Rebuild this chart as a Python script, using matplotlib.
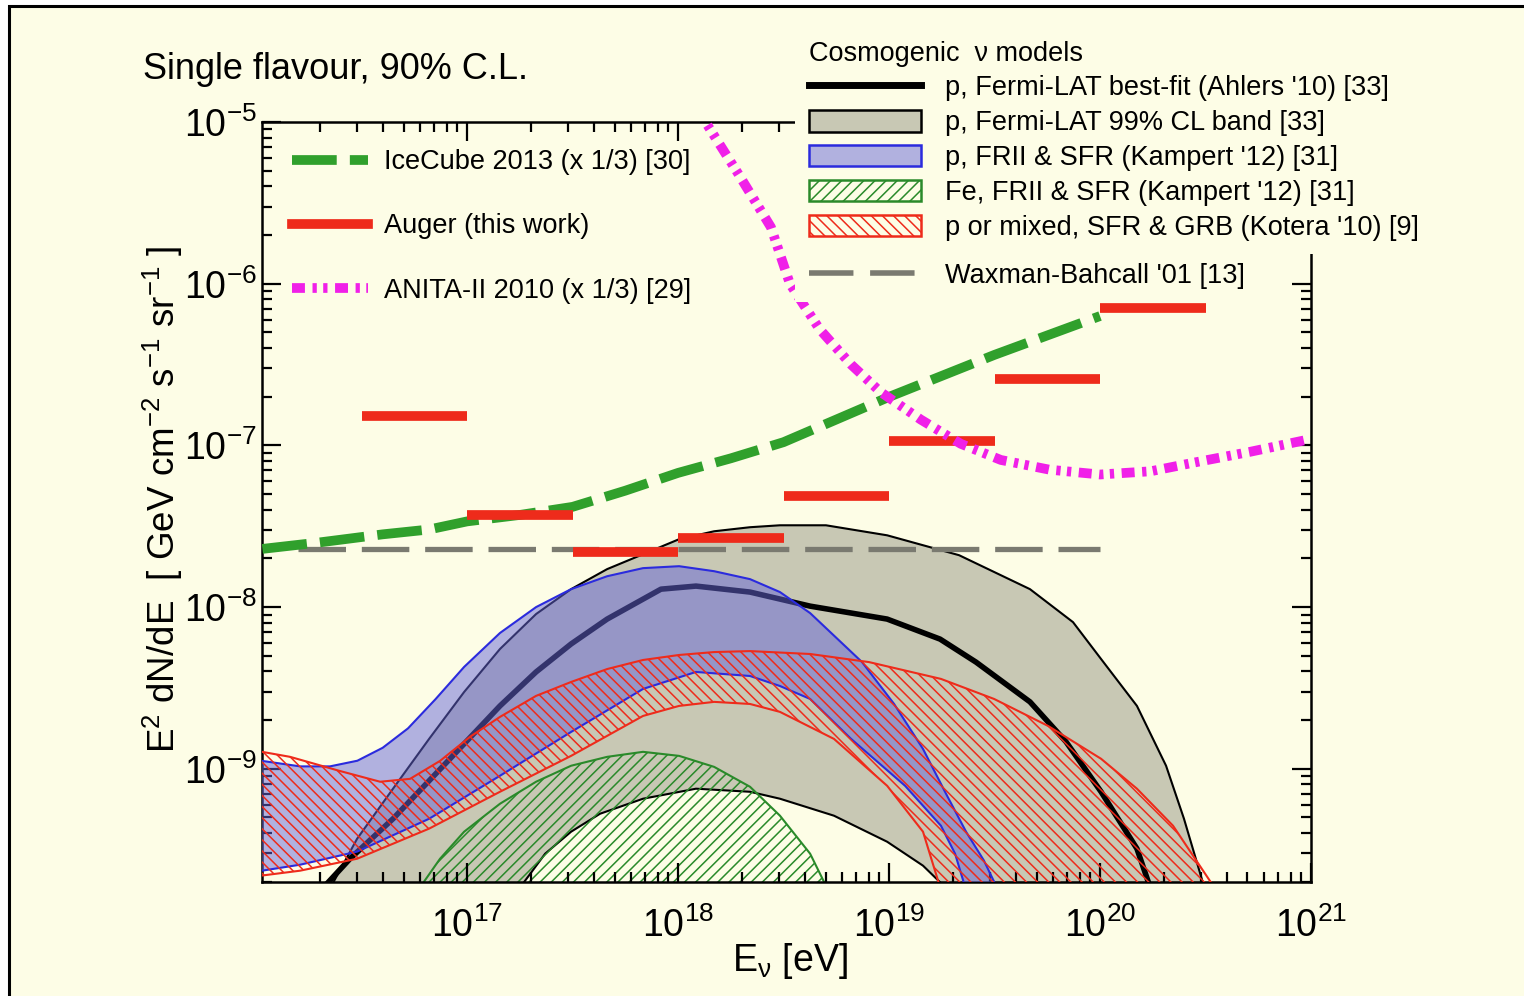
import numpy as np
import matplotlib
matplotlib.use('Agg')
import matplotlib.pyplot as plt
from matplotlib.lines import Line2D
from matplotlib.patches import Patch, Rectangle
from matplotlib.ticker import FixedLocator, NullFormatter

plt.rcParams['font.family'] = ['Liberation Sans', 'DejaVu Sans']
plt.rcParams['mathtext.fontset'] = 'custom'
plt.rcParams['mathtext.rm'] = 'Liberation Sans'
plt.rcParams['mathtext.it'] = 'Liberation Sans:italic'
plt.rcParams['mathtext.bf'] = 'Liberation Sans:bold'
plt.rcParams['hatch.linewidth'] = 1.1

# ---- data (log10 E[eV], log10 E^2 dN/dE [GeV cm^-2 s^-1 sr^-1]) ----
auger_logE_lo = [16.5, 17.0, 17.5, 18.0, 18.5, 19.0, 19.5, 20.0]
auger_logF = [-6.82, -7.43, -7.66, -7.57, -7.31, -6.975, -6.59, -6.15]

icecube_logE = [16.03, 16.3, 16.6, 16.82, 17.0, 17.25, 17.5, 17.75, 18.0,
                18.25, 18.5, 18.75, 19.0, 19.25, 19.5, 19.75, 20.0]
icecube_logF = [-7.64, -7.60, -7.55, -7.52, -7.47, -7.43, -7.38, -7.28, -7.17,
                -7.08, -6.98, -6.84, -6.70, -6.57, -6.44, -6.32, -6.20]

anita_logE = [18.11, 18.13, 18.29, 18.44, 18.53, 18.67, 18.82, 18.96, 19.15,
              19.34, 19.53, 19.76, 20.0, 20.24, 20.47, 20.71, 21.0]
anita_logF = [-4.9, -5.0, -5.33, -5.65, -6.0, -6.28, -6.50, -6.67, -6.84,
              -6.99, -7.09, -7.15, -7.18, -7.16, -7.10, -7.04, -6.96]

wb_logE = [16.2, 20.0]
wb_logF = [-7.64, -7.64]

fermi_up_logE = [16.346, 16.479, 16.649, 16.82, 16.986, 17.156, 17.327, 17.493,
                 17.664, 17.834, 18.005, 18.171, 18.341, 18.483, 18.701, 18.991,
                 19.332, 19.668, 19.872, 20.005, 20.175, 20.313, 20.398, 20.498]
fermi_up_logF = [-9.75, -9.432, -9.123, -8.815, -8.525, -8.259, -8.043, -7.889,
                 -7.765, -7.673, -7.58, -7.531, -7.506, -7.494, -7.494, -7.556,
                 -7.679, -7.889, -8.093, -8.321, -8.611, -8.981, -9.309, -9.75]
fermi_lo_logE = [17.242, 17.37, 17.493, 17.63, 17.834, 18.085, 18.341, 18.483,
                 18.739, 18.991, 19.161, 19.28]
fermi_lo_logF = [-9.75, -9.525, -9.389, -9.278, -9.185, -9.123, -9.142, -9.185,
                 -9.29, -9.451, -9.599, -9.75]

bestfit_logE = [16.308, 16.445, 16.649, 16.919, 17.156, 17.327, 17.493, 17.664,
                17.919, 18.085, 18.341, 18.626, 18.991, 19.242, 19.412, 19.668,
                19.839, 20.005, 20.175, 20.242]
bestfit_logF = [-9.75, -9.556, -9.309, -8.938, -8.611, -8.401, -8.228, -8.074,
                -7.889, -7.87, -7.907, -7.994, -8.074, -8.198, -8.34, -8.586,
                -8.833, -9.142, -9.494, -9.75]

blue_up_logE = [16.028, 16.209, 16.35, 16.48, 16.6, 16.72, 16.85, 16.986, 17.156,
                17.327, 17.493, 17.664, 17.834, 18.005, 18.171, 18.341, 18.483,
                18.626, 18.872, 19.024, 19.161, 19.27, 19.365, 19.45, 19.517]
blue_up_logF = [-8.951, -8.985, -8.985, -8.95, -8.87, -8.75, -8.57, -8.37, -8.16,
                -8.0, -7.889, -7.809, -7.759, -7.747, -7.778, -7.827, -7.907,
                -8.037, -8.34, -8.599, -8.877, -9.154, -9.389, -9.568, -9.75]
blue_lo_logE = [16.028, 16.209, 16.479, 16.82, 17.156, 17.493, 17.834, 18.085,
                18.341, 18.483, 18.626, 18.82, 19.076, 19.246, 19.313, 19.365]
blue_lo_logF = [-9.63, -9.593, -9.512, -9.309, -9.043, -8.772, -8.506, -8.401,
                -8.426, -8.488, -8.568, -8.815, -9.105, -9.352, -9.525, -9.75]

red_up_logE = [16.028, 16.161, 16.393, 16.588, 16.73, 16.872, 17.014, 17.156,
               17.327, 17.493, 17.664, 17.834, 18.005, 18.171, 18.341, 18.626,
               18.905, 19.246, 19.498, 19.754, 20.005, 20.175, 20.346, 20.55]
red_up_logF = [-8.895, -8.926, -9.012, -9.08, -9.062, -8.951, -8.802, -8.679,
               -8.549, -8.463, -8.383, -8.327, -8.296, -8.278, -8.272, -8.29,
               -8.34, -8.444, -8.568, -8.735, -8.938, -9.123, -9.352, -9.75]
red_lo_logE = [16.028, 16.209, 16.479, 16.82, 17.156, 17.493, 17.834, 18.005,
               18.171, 18.341, 18.483, 18.739, 18.991, 19.161, 19.246]
red_lo_logF = [-9.66, -9.63, -9.556, -9.37, -9.142, -8.92, -8.673, -8.611,
               -8.586, -8.599, -8.648, -8.815, -9.105, -9.389, -9.75]

fe_logE = [16.768, 16.872, 16.986, 17.156, 17.327, 17.493, 17.664, 17.834,
           18.005, 18.171, 18.341, 18.483, 18.626, 18.711]
fe_logF = [-9.75, -9.556, -9.389, -9.216, -9.08, -8.981, -8.926, -8.895,
           -8.92, -8.988, -9.111, -9.29, -9.525, -9.75]

x_major = [1e17, 1e18, 1e19, 1e20, 1e21]
y_major = [1e-9, 1e-8, 1e-7, 1e-6, 1e-5]


def p10(v):
    return 10.0 ** np.asarray(v)


cream = '#fdfde6'
c_green = '#30a02c'
c_red = '#ee2b1b'
c_mag = '#f020e8'
c_wb = '#7a7a70'
c_fermi = '#c8c8b4'
c_blue = '#2b2bdd'
blue_fill = (0.40, 0.40, 0.85, 0.5)
c_fe = '#2a8a2a'

fig = plt.figure(figsize=(15.24, 9.96), dpi=100, facecolor='white')
fig.add_artist(Rectangle((9 / 1524, -0.05), 1.2, 1.05 - 6 / 996,
                         transform=fig.transFigure, facecolor=cream,
                         edgecolor='black', lw=2.2, zorder=-5))

ax = fig.add_axes([262 / 1524, 114 / 996, 1049 / 1524, 760 / 996])
ax.set_facecolor('none')
ax.set_xscale('log')
ax.set_yscale('log')
xmin, xmax = 10 ** 16.028, 1e21
ymin, ymax = 10 ** -9.70, 1e-5
ax.set_xlim(xmin, xmax)
ax.set_ylim(ymin, ymax)

# Fermi-LAT 99% band
fx = np.concatenate([fermi_up_logE, fermi_lo_logE[::-1]])
fy = np.concatenate([fermi_up_logF, fermi_lo_logF[::-1]])
ax.fill(p10(fx), p10(fy), facecolor=c_fermi, lw=0, zorder=1)
ax.plot(p10(fermi_up_logE), p10(fermi_up_logF), color='black', lw=1.5, zorder=1.2)
ax.plot(p10(fermi_lo_logE), p10(fermi_lo_logF), color='black', lw=1.5, zorder=1.2)

# Fe band (hatched)
ax.fill_between(p10(fe_logE), p10(fe_logF), 1e-12, facecolor='none',
                edgecolor=c_fe, hatch='///', lw=0, zorder=1.5)
ax.plot(p10(fe_logE), p10(fe_logF), color=c_fe, lw=1.5, zorder=1.6)

# best fit
ax.plot(p10(bestfit_logE), p10(bestfit_logF), color='black', lw=4, zorder=2)

# p FRII & SFR band
bx = np.concatenate([blue_up_logE, blue_lo_logE[::-1]])
by = np.concatenate([blue_up_logF, blue_lo_logF[::-1]])
ax.fill(p10(bx), p10(by), facecolor=blue_fill, lw=0, zorder=3)
ax.plot(p10(blue_up_logE), p10(blue_up_logF), color=c_blue, lw=1.5, zorder=3.1)
ax.plot(p10(blue_lo_logE), p10(blue_lo_logF), color=c_blue, lw=1.5, zorder=3.1)

# Kotera band (hatched)
rx = np.concatenate([red_up_logE, red_lo_logE[::-1]])
ry = np.concatenate([red_up_logF, red_lo_logF[::-1]])
ax.fill(p10(rx), p10(ry), facecolor='none', edgecolor=c_red, hatch='\\\\\\',
        lw=0, zorder=3.5)
ax.plot(p10(red_up_logE), p10(red_up_logF), color=c_red, lw=1.5, zorder=3.6)
ax.plot(p10(red_lo_logE), p10(red_lo_logF), color=c_red, lw=1.5, zorder=3.6)

# limits
wb_ls = (0, (9, 3))
ice_ls = (0, (4.6, 1.35))
anita_ls = (0, (1.33, 0.78, 0.44, 0.66, 0.44, 0.78))
ax.plot(p10(wb_logE), p10(wb_logF), color=c_wb, lw=3.8, ls=wb_ls, zorder=4)
ax.plot(p10(icecube_logE), p10(icecube_logF), color=c_green, lw=7, ls=ice_ls, zorder=4.1)
ax.hlines(p10(auger_logF), p10(auger_logE_lo), p10(np.array(auger_logE_lo) + 0.5),
          color=c_red, lw=7, zorder=4.2)
ax.plot(p10(anita_logE), p10(anita_logF), color=c_mag, lw=7, ls=anita_ls, zorder=4.3)

# axes styling
for s in ax.spines.values():
    s.set_linewidth(1.8)
x_minor = [m * 10.0 ** d for d in range(16, 21) for m in range(2, 10)
           if xmin < m * 10.0 ** d < xmax]
y_minor = [m * 10.0 ** d for d in range(-10, -5) for m in range(2, 10)
           if ymin < m * 10.0 ** d < ymax]
ax.xaxis.set_major_locator(FixedLocator(x_major))
ax.xaxis.set_minor_locator(FixedLocator(x_minor))
ax.yaxis.set_major_locator(FixedLocator(y_major))
ax.yaxis.set_minor_locator(FixedLocator(y_minor))
ax.xaxis.set_minor_formatter(NullFormatter())
ax.yaxis.set_minor_formatter(NullFormatter())
ax.tick_params(which='both', direction='in', top=True, right=True, width=1.6)
ax.tick_params(which='major', length=14, labelsize=27)
ax.tick_params(which='minor', length=7.5)
ax.tick_params(axis='x', which='major', pad=18)
ax.tick_params(axis='y', which='major', pad=4)

ax.set_xlabel(r'E$_\mathrm{\nu}$ [eV]', fontsize=27)
ax.xaxis.set_label_coords(0.503, -0.077)
ax.set_ylabel(r'E$^2$ dN/dE  [ GeV cm$^{-2}$ s$^{-1}$ sr$^{-1}$ ]', fontsize=26.5)
ax.yaxis.set_label_coords(-0.073, 0.503)

fig.text(143 / 1524, 1 - 79 / 996, 'Single flavour, 90% C.L.', fontsize=26,
         ha='left', va='baseline')

# legends
h_left = [Line2D([], [], color=c_green, lw=7, ls=ice_ls),
          Line2D([], [], color=c_red, lw=7),
          Line2D([], [], color=c_mag, lw=7, ls=anita_ls)]
l_left = ['IceCube 2013 (x 1/3) [30]', 'Auger (this work)', 'ANITA-II 2010 (x 1/3) [29]']
fig.legend(h_left, l_left, loc='upper left',
           bbox_to_anchor=(292 / 1524, 1 - 149 / 996), frameon=False,
           fontsize=19.5, handlelength=2.8, handletextpad=0.6,
           labelspacing=1.42, borderpad=0, borderaxespad=0)

h_right = [Line2D([], [], color='black', lw=5),
           Patch(facecolor=c_fermi, edgecolor='black', lw=1.8),
           Patch(facecolor=blue_fill, edgecolor=c_blue, lw=1.8),
           Patch(facecolor='none', edgecolor=c_fe, hatch='///', lw=1.8),
           Patch(facecolor='none', edgecolor=c_red, hatch='\\\\\\', lw=1.8)]
l_right = ["p, Fermi-LAT best-fit (Ahlers '10) [33]",
           "p, Fermi-LAT 99% CL band [33]",
           "p, FRII & SFR (Kampert '12) [31]",
           "Fe, FRII & SFR (Kampert '12) [31]",
           "p or mixed, SFR & GRB (Kotera '10) [9]"]
common = dict(loc='upper left', fontsize=19.5, handlelength=4.15,
              handleheight=0.85, handletextpad=0.9, borderaxespad=0,
              frameon=True, facecolor=cream, edgecolor='none', framealpha=1,
              fancybox=False)
leg2 = fig.legend(h_right, l_right, bbox_to_anchor=(795 / 1524, 1 - 27 / 996),
                  title='Cosmogenic  ν models', title_fontsize=19.5,
                  alignment='left', labelspacing=0.32, borderpad=0.5, **common)
leg2.get_frame().set_linewidth(0)
leg2.set_zorder(10)

h_wb = [Line2D([], [], color=c_wb, lw=4, ls=(0, (8, 3)))]
leg3 = fig.legend(h_wb, ["Waxman-Bahcall '01 [13]"],
                  bbox_to_anchor=(795 / 1524, 1 - 249 / 996), borderpad=0.5,
                  **common)
leg3.get_frame().set_linewidth(0)
leg3.set_zorder(10)

fig.savefig('out.png', dpi=100, facecolor=fig.get_facecolor())
